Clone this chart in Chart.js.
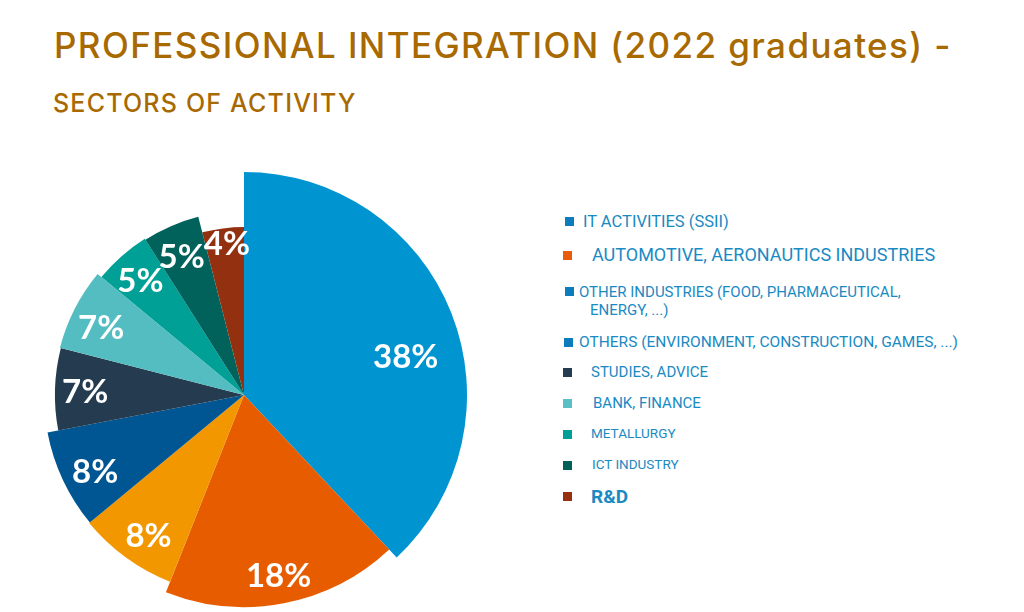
<!DOCTYPE html>
<html lang="en">
<head>
<meta charset="UTF-8">
<title>Professional integration - sectors of activity</title>
<style>
  body {
    margin: 0;
    width: 1024px;
    height: 612px;
    background: #fff;
    position: relative;
    overflow: hidden;
    font-family: Roboto, sans-serif;
  }
  .titre {
    position: absolute;
    left: 54px;
    top: 28px;
    color: #A86A00;
    font-family: Inter, sans-serif;
    font-weight: 500;
    font-size: 35px;
    line-height: 35px;
    letter-spacing: 1.4px;
    white-space: nowrap;
  }
  .sous-titre {
    position: absolute;
    left: 53px;
    top: 91px;
    color: #A86A00;
    font-family: Inter, sans-serif;
    font-weight: 500;
    font-size: 25px;
    line-height: 25px;
    letter-spacing: 1.2px;
    white-space: nowrap;
  }
  #camembert {
    position: absolute;
    left: 21px;
    top: 172px;
  }
  .carre {
    position: absolute;
    width: 9px;
    height: 9px;
  }
  .libelle {
    position: absolute;
    color: #1A8AC3;
    white-space: nowrap;
  }
</style>
<script src="https://cdn.jsdelivr.net/npm/chart.js"></script>
</head>
<body>
<div class="titre">PROFESSIONAL INTEGRATION (2022 graduates) -</div>
<div class="sous-titre">SECTORS OF ACTIVITY</div>
<canvas id="camembert" width="446" height="446"></canvas>
<div id="legende"></div>

<script>
// donnees
const secteurs = [
  'IT ACTIVITIES (SSII)',
  'AUTOMOTIVE, AERONAUTICS INDUSTRIES',
  'OTHER INDUSTRIES (FOOD, PHARMACEUTICAL, ENERGY, ...)',
  'OTHERS (ENVIRONMENT, CONSTRUCTION, GAMES, ...)',
  'STUDIES, ADVICE',
  'BANK, FINANCE',
  'METALLURGY',
  'ICT INDUSTRY',
  'R&D'
];
const parts = [38, 18, 8, 8, 7, 7, 5, 5, 4];

// couleurs des parts et des carres de la legende
const couleurs = ['#0094D1', '#E85C00', '#F39700', '#005593', '#253B4F', '#54BDC2', '#00A096', '#00625A', '#93300F'];
const couleursLegende = ['#0C7CBC', '#E95C0C', '#0C7CBC', '#0C7CBC', '#253B50', '#5BC0C5', '#00A096', '#006159', '#97300F'];

// chaque part a son propre rayon (rapport au plus grand)
const rayons = [1, 0.951, 0.901, 0.897, 0.848, 0.852, 0.83, 0.825, 0.753];
// placement des pourcentages : distance relative et petit decalage d'angle (degres)
const distEtiq = [0.745, 0.87, 0.85, 0.84, 0.84, 0.83, 0.83, 0.82, 0.9];
const decalEtiq = [8.4, 0, -2, -2.4, -1, -2, -1, -1, 0.7];

// mise en page de la legende : carre (x, y), texte (x, ligne de base), taille
const miseEnPage = [
  { cx: 565, cy: 217, tx: 583, base: 228, taille: 16.5 },
  { cx: 563, cy: 251, tx: 592, base: 261, taille: 18 },
  { cx: 565, cy: 287, tx: 579, base: 297, taille: 15, lh: 18, largeur: 345, retrait: 11 },
  { cx: 564, cy: 338, tx: 579, base: 348, taille: 15.5 },
  { cx: 563, cy: 368, tx: 591, base: 378, taille: 15 },
  { cx: 563, cy: 399, tx: 593, base: 409, taille: 15 },
  { cx: 563, cy: 430, tx: 591, base: 438, taille: 13.5 },
  { cx: 563, cy: 461, tx: 592, base: 469, taille: 13.5 },
  { cx: 563, cy: 492, tx: 591, base: 503, taille: 19, gras: true }
];

const legende = document.getElementById('legende');
secteurs.forEach((nom, i) => {
  const m = miseEnPage[i];
  const carre = document.createElement('div');
  carre.className = 'carre';
  carre.style.left = m.cx + 'px';
  carre.style.top = m.cy + 'px';
  carre.style.background = couleursLegende[i];
  legende.appendChild(carre);

  const lh = m.lh || m.taille;
  const txt = document.createElement('div');
  txt.className = 'libelle';
  txt.textContent = nom;
  txt.style.fontSize = m.taille + 'px';
  txt.style.lineHeight = lh + 'px';
  txt.style.top = (m.base - ((lh - 1.171 * m.taille) / 2 + 0.928 * m.taille)) + 'px';
  if (m.gras) txt.style.fontWeight = 'bold';
  if (m.largeur) {
    // texte sur deux lignes avec retrait de la deuxieme
    txt.style.whiteSpace = 'normal';
    txt.style.width = m.largeur + 'px';
    txt.style.left = (m.tx + m.retrait) + 'px';
    txt.style.textIndent = (-m.retrait) + 'px';
  } else {
    txt.style.left = m.tx + 'px';
  }
  legende.appendChild(txt);
});

// agrandit ou reduit chaque part
const rayonsParts = {
  id: 'rayonsParts',
  afterDatasetsUpdate(chart) {
    const meta = chart.getDatasetMeta(0);
    const rMax = meta.data.length ? Math.max(...meta.data.map(a => a.outerRadius)) : 0;
    meta.data.forEach((arc, i) => {
      arc.outerRadius = rMax * rayons[i];
    });
  }
};

// pourcentages en blanc dans les parts
const etiquettes = {
  id: 'etiquettes',
  afterDatasetsDraw(chart) {
    const ctx = chart.ctx;
    const meta = chart.getDatasetMeta(0);
    ctx.save();
    ctx.fillStyle = '#ffffff';
    ctx.font = 'bold 33px Lato, sans-serif';
    ctx.textAlign = 'center';
    ctx.textBaseline = 'middle';
    meta.data.forEach((arc, i) => {
      const a = (arc.startAngle + arc.endAngle) / 2 + decalEtiq[i] * Math.PI / 180;
      const r = arc.outerRadius * distEtiq[i];
      ctx.fillText(parts[i] + '%', arc.x + Math.cos(a) * r, arc.y + Math.sin(a) * r);
    });
    ctx.restore();
  }
};

new Chart(document.getElementById('camembert'), {
  type: 'pie',
  data: {
    labels: secteurs,
    datasets: [{
      data: parts,
      backgroundColor: couleurs,
      borderWidth: 0
    }]
  },
  options: {
    responsive: false,
    animation: false,
    events: [],
    layout: { padding: 0 },
    plugins: {
      legend: { display: false },
      tooltip: { enabled: false }
    }
  },
  plugins: [rayonsParts, etiquettes]
});
</script>
</body>
</html>
